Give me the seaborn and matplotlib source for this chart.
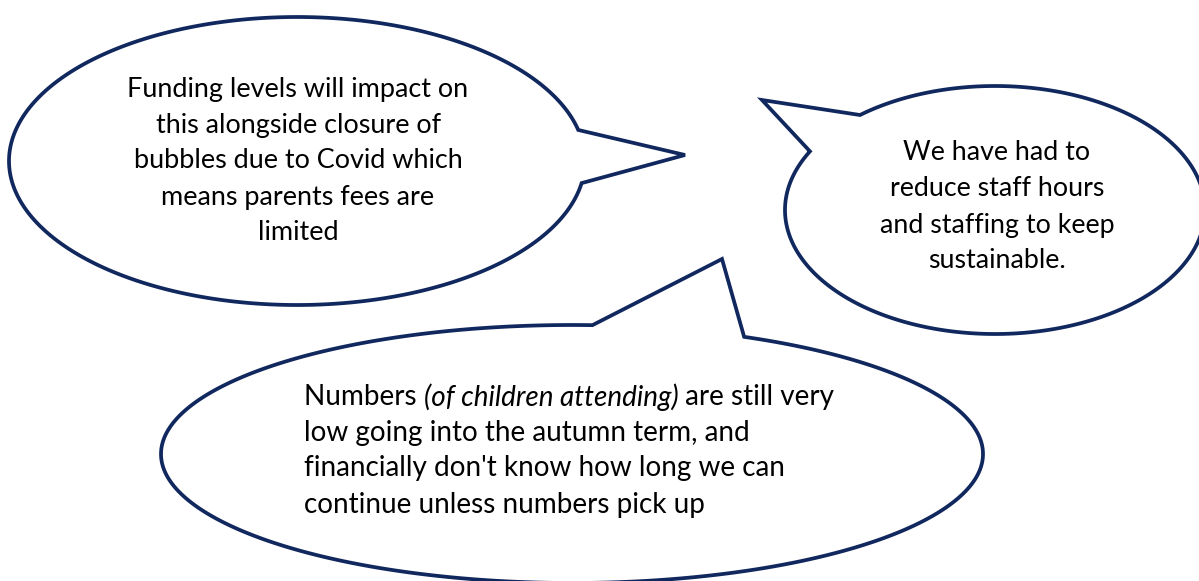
import numpy as np
import matplotlib
matplotlib.use("Agg")
import matplotlib.pyplot as plt
from matplotlib import font_manager
from matplotlib.patches import Polygon
import seaborn as sns

# quotes shown in each bubble, one entry per line
left_lines = [
    "Funding levels will impact on",
    "this alongside closure of",
    "bubbles due to Covid which",
    "means parents fees are",
    "limited",
]
right_lines = [
    "We have had to",
    "reduce staff hours",
    "and staffing to keep",
    "sustainable.",
]
# bottom bubble: each line is a list of (text, italic) pieces
bottom_lines = [
    [("Numbers ", False), ("(of children attending)", True), (" are still very", False)],
    [("low going into the autumn term, and", False)],
    [("financially don't know how long we can", False)],
    [("continue unless numbers pick up", False)],
]

EDGE = "#11285f"

available = {f.name for f in font_manager.fontManager.ttflist}
narrow = "Liberation Sans Narrow" if "Liberation Sans Narrow" in available else "Lato"
wide = "Lato" if "Lato" in available else "DejaVu Sans"


def bubble_points(cx, cy, w, h, start, tip, end, n=400):
    """Ellipse outline with a pointed tail between start and end."""
    a0 = np.arctan2((start[1] - cy) / (h / 2), (start[0] - cx) / (w / 2))
    a1 = np.arctan2((end[1] - cy) / (h / 2), (end[0] - cx) / (w / 2))
    # go the long way round from end back to start
    d = (a0 - a1) % (2 * np.pi)
    if d < np.pi:
        d = d - 2 * np.pi
    t = a1 + np.linspace(0, d, n)
    xs = cx + w / 2 * np.cos(t)
    ys = cy + h / 2 * np.sin(t)
    pts = list(zip(xs, ys))
    pts.append(tip)
    return np.array(pts)


def pieces_width(ax, renderer, pieces, family, size):
    total = 0
    for piece, italic in pieces:
        t = ax.text(0, 0, piece, fontsize=size, family=family,
                    style="italic" if italic else "normal")
        total += t.get_window_extent(renderer).width
        t.remove()
    return total


def fit_size(ax, renderer, pieces, family, target, base=20):
    return base * target / pieces_width(ax, renderer, pieces, family, base)


sns.set_style("white")
fig = plt.figure(figsize=(11.99, 5.81), dpi=100)
ax = fig.add_axes([0, 0, 1, 1])
ax.set_xlim(0, 1199)
ax.set_ylim(581, 0)
ax.axis("off")
fig.canvas.draw()
renderer = fig.canvas.get_renderer()

shapes = [
    (297, 161, 576, 288, (578, 130), (685, 155), (580, 183)),
    (995, 210, 420, 248, (860, 115), (762, 100), (812, 152)),
    (572, 454, 822, 258, (592, 328), (722, 259), (741, 339)),
]
for cx, cy, w, h, s, tp, e in shapes:
    pts = bubble_points(cx, cy, w, h, s, tp, e)
    ax.add_patch(Polygon(pts, closed=True, facecolor="white", edgecolor=EDGE,
                         linewidth=2.7, joinstyle="miter", zorder=2))

# left bubble text
fs = fit_size(ax, renderer, [(left_lines[0], False)], narrow, 342)
for y, line in zip([90, 126, 161, 197, 232], left_lines):
    ax.text(298, y, line, ha="center", va="center", fontsize=fs, family=narrow,
            color="black", zorder=3)

# right bubble text
fs = fit_size(ax, renderer, [(right_lines[2], False)], wide, 235)
for y, line in zip([153, 189, 225, 260], right_lines):
    ax.text(997, y, line, ha="center", va="center", fontsize=fs, family=wide,
            color="black", zorder=3)

# bottom bubble text, left aligned, with an italic piece
fs = fit_size(ax, renderer, bottom_lines[0], narrow, 532)
inv = ax.transData.inverted()
for y, pieces in zip([397, 433, 468, 505], bottom_lines):
    x = 304
    for piece, italic in pieces:
        t = ax.text(x, y, piece, ha="left", va="center", fontsize=fs, family=narrow,
                    style="italic" if italic else "normal", color="black", zorder=3)
        bb = t.get_window_extent(renderer)
        x = inv.transform((bb.x1, bb.y0))[0]

fig.savefig("out.png", dpi=100, facecolor="white")
